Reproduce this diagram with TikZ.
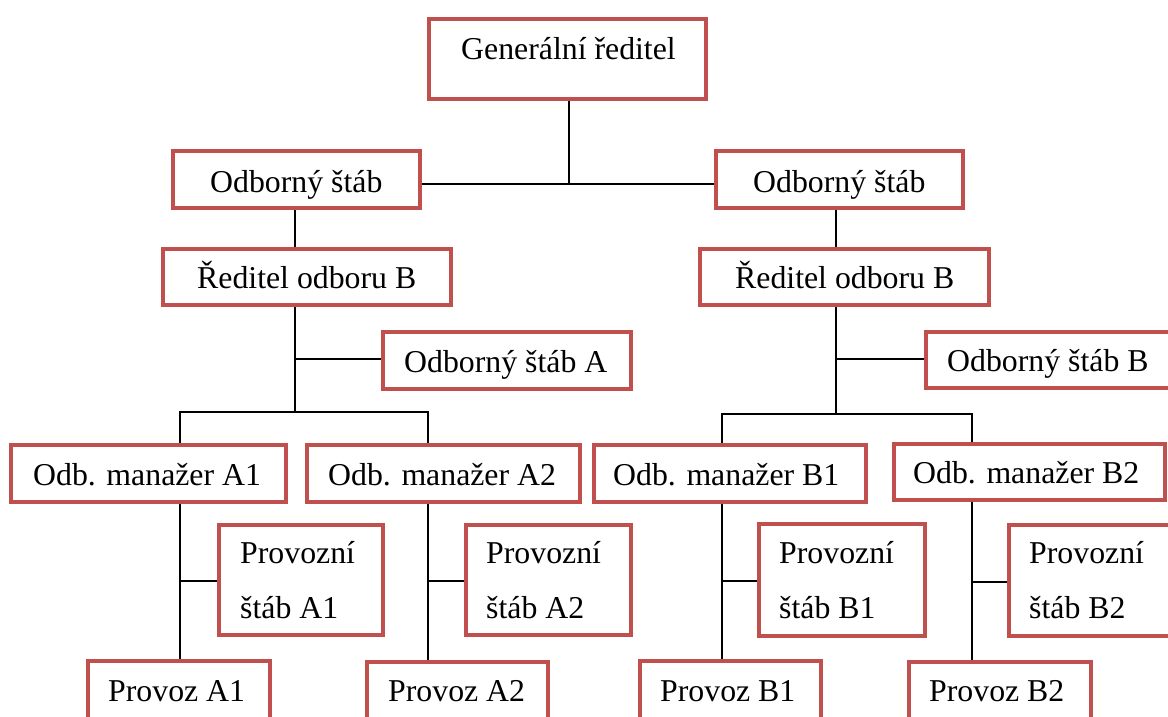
\documentclass[tikz,border=0pt]{standalone}
\usepackage{fontspec}
\setmainfont{Liberation Serif}
\definecolor{boxred}{RGB}{192,80,77}
\tikzset{
  orgbox/.style={draw=boxred, line width=4pt, rectangle, inner sep=0pt,
    outer sep=2pt, fill=white},
  lbl/.style={anchor=base west, inner sep=0pt,
    font=\fontsize{31.8}{38}\selectfont},
  link/.style={draw=black, line width=2pt},
}
% box given by its outer left, top, right, bottom edges
\newcommand\orgnode[5]{%
  \pgfmathsetmacro\orgw{#4-#2-4}\pgfmathsetmacro\orgh{#5-#3-4}%
  \node[orgbox, anchor=north west, minimum width=\orgw pt,
    minimum height=\orgh pt] (#1) at (#2,#3) {};}
\begin{document}
\begin{tikzpicture}[x=1pt, y=-1pt]
\useasboundingbox (0,0) rectangle (1168,716);
\fill[white] (0,0) rectangle (1168,716);
\clip (0,0) rectangle (1168,716);

% boxes
\orgnode{gr}{427}{17}{708}{101}
\orgnode{os1}{171}{149}{422}{210}
\orgnode{os2}{714}{149}{965}{210}
\orgnode{ro1}{161}{247}{453}{307}
\orgnode{ro2}{698}{247}{991}{307}
\orgnode{osA}{381}{330}{633}{391}
\orgnode{osB}{924}{330}{1185}{390}
\orgnode{mA1}{9}{443}{288}{504}
\orgnode{mA2}{305}{443}{582}{504}
\orgnode{mB1}{592}{443}{868}{504}
\orgnode{mB2}{892}{442}{1167}{502}
\orgnode{pA1}{217}{523}{385}{637}
\orgnode{pA2}{464}{523}{633}{637}
\orgnode{pB1}{757}{522}{927}{638}
\orgnode{pB2}{1007}{523}{1185}{638}
\orgnode{vA1}{86}{659}{272}{760}
\orgnode{vA2}{365}{660}{550}{760}
\orgnode{vB1}{638}{659}{823}{760}
\orgnode{vB2}{907}{660}{1093}{760}

% labels
\node[lbl] (tgr)  at (461,59)  {Generální ředitel};
\node[lbl] (tos1) at (210,192) {Odborný štáb};
\node[lbl] (tos2) at (753,192) {Odborný štáb};
\node[lbl] (tro1) at (197,288) {Ředitel odboru B};
\node[lbl] (tro2) at (735,288) {Ředitel odboru B};
\node[lbl] (tosA) at (404,372) {Odborný štáb A};
\node[lbl] (tosB) at (947,371) {Odborný štáb B};
\node[lbl] (tmA1) at (33,485)  {Odb. manažer A1};
\node[lbl] (tmA2) at (328,485) {Odb. manažer A2};
\node[lbl] (tmB1) at (613,485) {Odb. manažer B1};
\node[lbl] (tmB2) at (913,483) {Odb. manažer B2};
\node[lbl] (tpA1a) at (240,563) {Provozní};
\node[lbl] (tpA1b) at (240,618) {štáb A1};
\node[lbl] (tpA2a) at (486,563) {Provozní};
\node[lbl] (tpA2b) at (486,618) {štáb A2};
\node[lbl] (tpB1a) at (779,563) {Provozní};
\node[lbl] (tpB1b) at (779,618) {štáb B1};
\node[lbl] (tpB2a) at (1029,563) {Provozní};
\node[lbl] (tpB2b) at (1029,618) {štáb B2};
\node[lbl] (tvA1) at (108,701) {Provoz A1};
\node[lbl] (tvA2) at (388,701) {Provoz A2};
\node[lbl] (tvB1) at (660,701) {Provoz B1};
\node[lbl] (tvB2) at (929,701) {Provoz B2};

% junction points of the connectors
\coordinate (t0)   at (569,184);
\coordinate (cA)   at (295,359);
\coordinate (busA) at (295,412);
\coordinate (a1)   at (180,581);
\coordinate (a2)   at (428,581);
\coordinate (cB)   at (836,359);
\coordinate (busB) at (836,414);
\coordinate (b1)   at (722,581);
\coordinate (b2)   at (972,582);

% top level
\draw[link] (gr.south -| t0) -- (t0);
\draw[link] (os1.east |- t0) -- (os2.west |- t0);

% left branch
\draw[link] (os1.south -| cA) -- (ro1.north -| cA);
\draw[link] (ro1.south -| cA) -- (busA);
\draw[link] (cA) -- (osA.west |- cA);
\draw[link] (mA1.north -| a1) |- (busA) -| (mA2.north -| a2);
\draw[link] (mA1.south -| a1) -- (vA1.north -| a1);
\draw[link] (a1) -- (pA1.west |- a1);
\draw[link] (mA2.south -| a2) -- (vA2.north -| a2);
\draw[link] (a2) -- (pA2.west |- a2);

% right branch
\draw[link] (os2.south -| cB) -- (ro2.north -| cB);
\draw[link] (ro2.south -| cB) -- (busB);
\draw[link] (cB) -- (osB.west |- cB);
\draw[link] (mB1.north -| b1) |- (busB) -| (mB2.north -| b2);
\draw[link] (mB1.south -| b1) -- (vB1.north -| b1);
\draw[link] (b1) -- (pB1.west |- b1);
\draw[link] (mB2.south -| b2) -- (vB2.north -| b2);
\draw[link] (b2) -- (pB2.west |- b2);
\end{tikzpicture}
\end{document}
